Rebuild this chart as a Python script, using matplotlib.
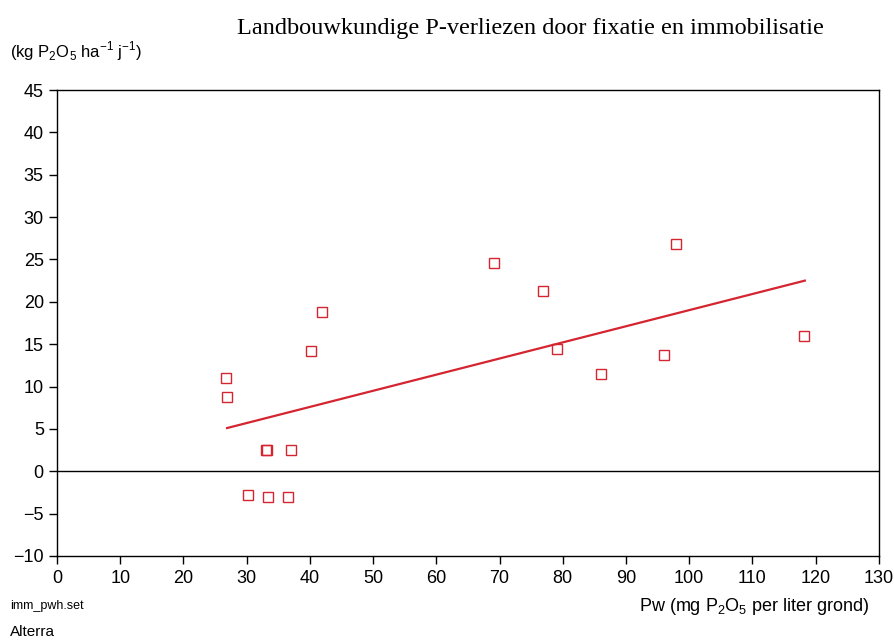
import matplotlib
matplotlib.use("Agg")
import matplotlib.pyplot as plt
from matplotlib import font_manager

pw = [26.7, 26.9, 30.2, 33.0, 33.2, 33.4, 36.5, 37.0, 40.2, 41.9, 69.1, 76.9, 79.1, 86.0, 96.0, 97.9, 118.1]
loss = [11.0, 8.8, -2.8, 2.5, 2.5, -3.0, -3.0, 2.5, 14.2, 18.8, 24.6, 21.3, 14.4, 11.5, 13.7, 26.8, 16.0]
fit_x = [26.9, 118.3]
fit_y = [5.1, 22.5]
xticks = list(range(0, 131, 10))
yticks = list(range(-10, 46, 5))

names = {f.name for f in font_manager.fontManager.ttflist}
sans = "Liberation Sans Narrow" if "Liberation Sans Narrow" in names else "Liberation Sans"
plt.rcParams['font.family'] = [sans, 'DejaVu Sans']
plt.rcParams['mathtext.fontset'] = 'custom'
plt.rcParams['mathtext.rm'] = sans

red = '#d42530'
fig = plt.figure(figsize=(8.94, 6.42), dpi=100)
ax = fig.add_axes([0.0638, 0.134, 0.983 - 0.0638, 0.8598 - 0.134])
ax.plot(pw, loss, linestyle='none', marker='s', markersize=7, markerfacecolor='none',
        markeredgecolor=red, markeredgewidth=1.0)
ax.plot(fit_x, fit_y, color=red, linewidth=1.6)
ax.axhline(0, color='black', linewidth=1.0)
ax.set_xlim(0, 130)
ax.set_ylim(-10, 45)
ax.set_xticks(xticks)
ax.set_yticks(yticks)
ax.tick_params(axis='both', direction='out', length=6, labelsize=13, width=1)
ax.tick_params(axis='x', pad=4)
for s in ax.spines.values():
    s.set_linewidth(1.0)

fig.text(0.593, 0.956, 'Landbouwkundige P-verliezen door fixatie en immobilisatie',
         family=['Liberation Serif', 'DejaVu Serif'], fontsize=17.5, ha='center', va='center')
fig.text(0.011, 0.921, r'(kg P$_2$O$_5$ ha$^{-1}$ j$^{-1}$)', fontsize=12, ha='left', va='center')
fig.text(0.011, 0.056, 'imm_pwh.set', fontsize=9, ha='left', va='center')
fig.text(0.972, 0.056, r'Pw (mg P$_2$O$_5$ per liter grond)', fontsize=13, ha='right', va='center')
fig.text(0.011, 0.016, 'Alterra', fontsize=11, ha='left', va='center')

fig.savefig('out.png', dpi=100)
